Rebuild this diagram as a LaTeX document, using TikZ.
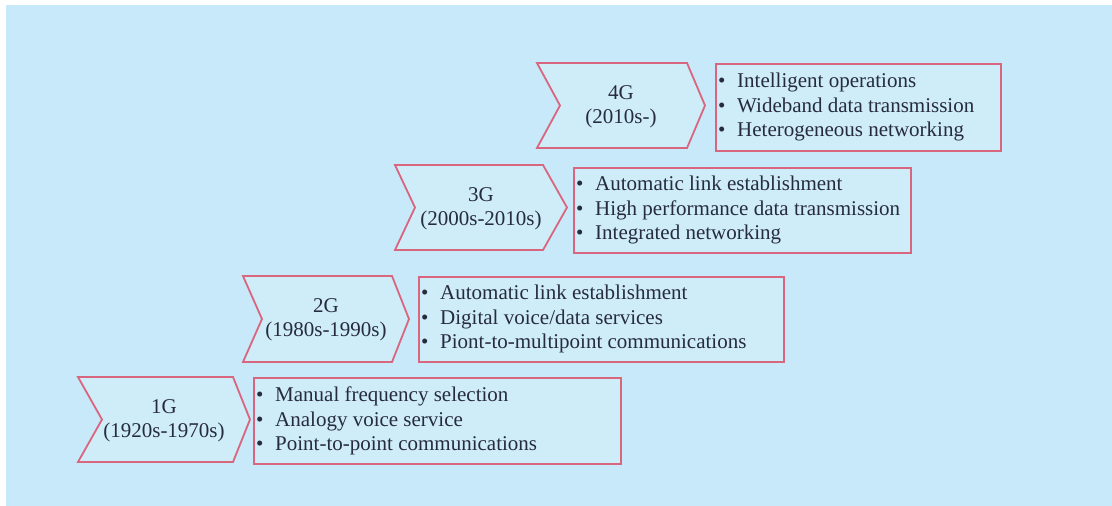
\documentclass[tikz,border=0pt]{standalone}
\usepackage{fontspec}
\setmainfont{Liberation Serif}
\newfontfamily\timesface{Liberation Serif}
\definecolor{bgblue}{HTML}{C8E9F9}
\definecolor{boxfill}{HTML}{CFECF9}
\definecolor{edge}{HTML}{D9667F}
\definecolor{ink}{HTML}{262C3C}
\tikzset{
  outline/.style={draw=edge, line width=1.8pt, fill=boxfill, line join=miter},
  listbox/.style={outline, anchor=north west, inner sep=0pt},
  gentext/.style={align=center, font=\timesface\fontsize{21}{24}\selectfont, text=ink, inner sep=0pt},
  listtext/.style={align=left, font=\timesface\fontsize{21}{24.5}\selectfont, text=ink, inner sep=0pt, anchor=west},
}
\newcommand\bul[1]{\makebox[19pt][l]{\textbullet}#1}
% chevron: name, left x, notch x, corner x, tip x, top y, bottom y
\newcommand\genchev[7]{%
  \draw[outline] (#2,#6) -- (#4,#6) -- (#5,{(#6+#7)/2}) -- (#4,#7) -- (#2,#7)
    -- (#3,{(#6+#7)/2}) -- cycle;
  \coordinate (#1) at ({(#2+#5)/2},{(#6+#7)/2+1});
}
\begin{document}
\begin{tikzpicture}[x=1pt,y=-1pt]
\useasboundingbox (0,0) rectangle (1112,506);
\fill[white] (0,0) rectangle (1112,506);
\fill[bgblue] (6,5) rectangle (1112,506);

% 1G
\genchev{c1}{78}{102}{233}{250}{377}{462}
\node[gentext] (g1) at (c1) {1G\\(1920s-1970s)};
\node[listbox, minimum width=367pt, minimum height=86pt] (b1) at (253,377) {};
\node[listtext] (l1) at ([xshift=3pt]b1.west)
  {\bul{Manual frequency selection}\\\bul{Analogy voice service}\\\bul{Point-to-point communications}};

% 2G
\genchev{c2}{243}{262}{392}{409}{276}{362}
\node[gentext] (g2) at (c2) {2G\\(1980s-1990s)};
\node[listbox, minimum width=365pt, minimum height=85pt] (b2) at (418,276) {};
\node[listtext] (l2) at ([xshift=3pt]b2.west)
  {\bul{Automatic link establishment}\\\bul{Digital voice/data services}\\\bul{Piont-to-multipoint communications}};

% 3G
\genchev{c3}{395}{415}{543}{567}{165}{250}
\node[gentext] (g3) at (c3) {3G\\(2000s-2010s)};
\node[listbox, minimum width=337pt, minimum height=85pt] (b3) at (573,167) {};
\node[listtext] (l3) at ([xshift=3pt]b3.west)
  {\bul{Automatic link establishment}\\\bul{High performance data transmission}\\\bul{Integrated networking}};

% 4G
\genchev{c4}{537}{560}{687}{705}{63}{148}
\node[gentext] (g4) at (c4) {4G\\(2010s-)};
\node[listbox, minimum width=285pt, minimum height=87pt] (b4) at (715,63) {};
\node[listtext] (l4) at ([xshift=3pt]b4.west)
  {\bul{Intelligent operations}\\\bul{Wideband data transmission}\\\bul{Heterogeneous networking}};
\end{tikzpicture}
\end{document}
